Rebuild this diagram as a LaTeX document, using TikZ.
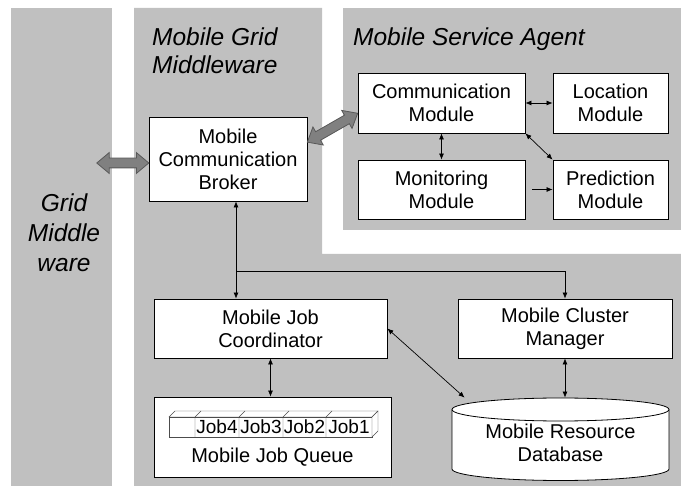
\documentclass[tikz,border=0pt]{standalone}
\usepackage{fontspec}
\setmainfont{Liberation Sans}
\usepackage{xcolor}
\usetikzlibrary{shapes,arrows.meta,calc,positioning}
\definecolor{panel}{RGB}{192,192,192}
\definecolor{fatgray}{RGB}{128,128,128}

\begin{document}
\begin{tikzpicture}[x=1pt,y=-1pt]
  \tikzset{
  box/.style={draw=black,line width=0.8pt,fill=white,inner sep=0pt,align=center,font=\fontsize{20}{23}\selectfont},
  title/.style={anchor=north west,inner sep=0pt,align=left,font=\fontsize{24.5}{28}\selectfont\itshape},
  job/.style={inner sep=0pt,font=\fontsize{19}{20}\selectfont},
  one/.style={line width=0.7pt,-{Latex[length=6pt,width=5pt]}},
  two/.style={line width=0.7pt,{Latex[length=6pt,width=5pt]}-{Latex[length=6pt,width=5pt]}},
  fat/.style={double arrow,draw=black!65,fill=fatgray,line width=0.8pt,
    double arrow head extend=5.5pt,double arrow tip angle=80,inner xsep=0pt,inner ysep=4.5pt,sloped,midway},
  }
  \useasboundingbox (0,0) rectangle (681,486);
  % the gray areas
  \fill[panel] (11,8) rectangle (112,486);
  \fill[panel] (134,8) -- (322,8) -- (322,254) -- (681,254) -- (681,486) -- (134,486) -- cycle;
  \fill[panel] (343,8) rectangle (681,230);
  \node[title] (tmgm) at (152,28) {Mobile Grid\\Middleware};
  \node[title] (tmsa) at (353,28) {Mobile Service Agent};
  \node[title,anchor=north,align=center,font=\fontsize{24.5}{30}\selectfont\itshape] (tgm) at (64,194) {Grid\\Middle\\ware};

  % the boxes
  \node[box,minimum width=158pt,minimum height=84pt] (broker) at (228,159) {Mobile\\Communication\\Broker};
  \node[box,minimum width=167pt,minimum height=60pt] (comm) at (441.5,103) {Communication\\Module};
  \node[box,minimum width=115pt,minimum height=60pt] (loc) at (610.5,103) {Location\\Module};
  \node[box,minimum width=167pt,minimum height=59pt] (mon) at (441.5,189.5) {Monitoring\\Module};
  \node[box,minimum width=115pt,minimum height=59pt] (pred) at (610.5,189.5) {Prediction\\Module};
  \node[box,minimum width=233pt,minimum height=59pt] (coord) at (270.5,328.5) {Mobile Job\\Coordinator};
  \node[box,minimum width=214pt,minimum height=59pt] (clus) at (565,328.5) {Mobile Cluster\\Manager};
  \node[box,minimum width=237pt,minimum height=80pt] (queue) at (272.5,437) {};
  \node[box,draw=none,fill=none,anchor=base] (qlabel) at (272.5,463) {Mobile Job Queue};

  % the database
  \draw[line width=0.8pt,fill=white] (452,409.5) -- (452,469)
    arc[start angle=180,end angle=0,x radius=108.5,y radius=11.5] -- (669,409.5)
    arc[start angle=0,end angle=-180,x radius=108.5,y radius=11.5] -- cycle;
  \draw[line width=0.8pt] (452,409.5) arc[start angle=180,end angle=0,x radius=108.5,y radius=11.5];
  \node[box,draw=none,fill=none,minimum width=217pt,minimum height=84pt] (db) at (560.5,440) {};
  \node[box,draw=none,fill=none] (dblabel) at (560.5,443) {Mobile Resource\\Database};

  % the job queue
  \draw[black!70,fill=white] (169,417) rectangle (372,437);
  \draw[black!70,fill=white] (169,417) -- (175,411) -- (378,411) -- (372,417) -- cycle;
  \draw[black!70,fill=white] (372,417) -- (378,411) -- (378,431) -- (372,437) -- cycle;
  \foreach \x in {195,239,283,326}
    \draw[black!70] (\x,437) -- (\x,417) -- ++(6,-6);
  \foreach \j/\x in {4/217,3/261,2/304.5,1/349}
    \node[job] (job\j) at (\x,427) {Job\j};

  % the connections
  \coordinate (bus) at (236,271);
  \draw[one] (bus) -- (bus |- broker.south);
  \draw[one] (bus) -- (bus |- coord.north);
  \draw[one] (bus) -| (clus.north);
  \draw[two] (coord.south) -- (coord.south |- queue.north);
  \draw[two] (clus.south) -- (clus.south |- db.north);
  \draw[two] (coord.east) -- ($(db.north west)+(13,0)$);
  \draw[two] (comm.east) -- (loc.west);
  \draw[two] (comm.south) -- (mon.north);
  \draw[two] (comm.south east) -- (pred.north west);
  \draw[one] ($(mon.east)+(7,0)$) -- (pred.west);

  % the fat arrows
  \coordinate (gport) at (97,163);
  \path (gport) -- (gport -| broker.west) node[fat,minimum height=52pt] (fatl) {};
  \path (broker.12) -- (comm.187) node[fat,minimum height=58pt] (fatr) {};
\end{tikzpicture}
\end{document}
